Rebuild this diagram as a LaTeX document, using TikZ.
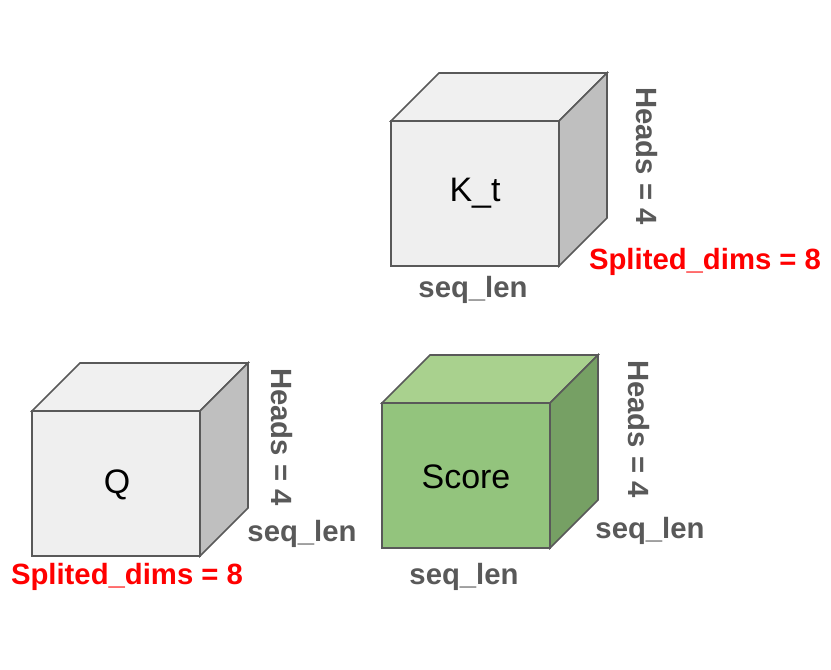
\documentclass[tikz,border=0pt]{standalone}
\usepackage{fontspec}
\setmainfont{Liberation Sans}
\usepackage{tikz}
\usetikzlibrary{positioning}
\definecolor{edgegray}{HTML}{595959}
\definecolor{facegray}{HTML}{EFEFEF}
\definecolor{topgray}{HTML}{F0F0F0}
\definecolor{sidegray}{HTML}{BFBFBF}
\definecolor{facegreen}{HTML}{93C47D}
\definecolor{topgreen}{HTML}{A9D18E}
\definecolor{sidegreen}{HTML}{76A064}
\tikzset{
  cubeface/.style={
    draw=edgegray,
    line width=1.4pt,
    line join=miter
  },
  cubelabel/.style={
    font=\fontsize{29}{34}\selectfont,
    text=black,
    inner sep=0pt
  },
  dimlabel/.style={
    font=\fontsize{25}{30}\selectfont\bfseries,
    text=edgegray,
    inner sep=0pt
  },
  splitlabel/.style={
    dimlabel,
    text=red
  }
}
% cube: #1 front bottom-left corner, #2 front, #3 top, #4 side
\newcommand{\tensorcube}[4]{%
  \begin{scope}[shift={#1}]
    \draw[cubeface, fill=#2] (0,0) rectangle (168,-145);
    \draw[cubeface, fill=#3] (0,-145) -- (48,-193) -- (216,-193) -- (168,-145) -- cycle;
    \draw[cubeface, fill=#4] (168,0) -- (216,-48) -- (216,-193) -- (168,-145) -- cycle;
  \end{scope}%
}

\begin{document}
\begin{tikzpicture}[x=0.3mm, y=-0.3mm]
  \useasboundingbox (0,0) rectangle (831,669);

  % K_t
  \tensorcube{(391,266)}{facegray}{topgray}{sidegray}
  \node[cubelabel] (kt) at (475,193) {K\_t};
  \node[dimlabel, rotate=-90] (kt-heads) at (647,156) {Heads = 4};
  \node[splitlabel] (kt-split) at (705,262) {Splited\_dims = 8};
  \node[dimlabel] (kt-seq) at (473,290) {seq\_len};

  % Q
  \tensorcube{(32,556)}{facegray}{topgray}{sidegray}
  \node[cubelabel] (q) at (117,485) {Q};
  \node[dimlabel, rotate=-90] (q-heads) at (282,437) {Heads = 4};
  \node[dimlabel] (q-seq) at (302,534) {seq\_len};
  \node[splitlabel] (q-split) at (127,577) {Splited\_dims = 8};

  % Score
  \tensorcube{(382,548)}{facegreen}{topgreen}{sidegreen}
  \node[cubelabel] (score) at (466,477) {Score};
  \node[dimlabel, rotate=-90] (score-heads) at (639,429) {Heads = 4};
  \node[dimlabel] (score-seq) at (650,531) {seq\_len};
  \node[dimlabel] (score-seqb) at (464,577) {seq\_len};
\end{tikzpicture}
\end{document}
